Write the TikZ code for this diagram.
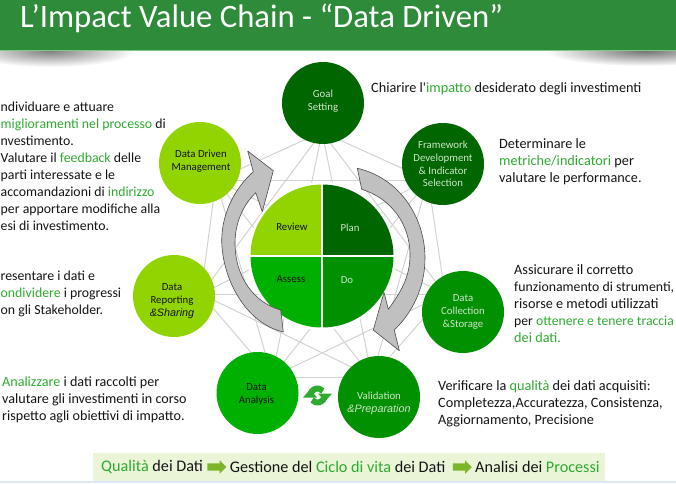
\documentclass[tikz,border=0pt]{standalone}
\usepackage{fontspec}
\setmainfont{Carlito}
\newfontfamily\arialfont{Liberation Sans}
\newfontfamily\plainfont{Carlito}
\usetikzlibrary{arrows.meta,calc,positioning,shapes.arrows}

\definecolor{headgreen}{HTML}{2E8B39}
\definecolor{keygreen}{HTML}{2EAA30}
\definecolor{meshgray}{HTML}{D2D2D2}
\definecolor{arrowgray}{HTML}{C0C0C0}
\definecolor{darkfill}{HTML}{006600}
\definecolor{midfill}{HTML}{009000}
\definecolor{brightfill}{HTML}{00B000}
\definecolor{limefill}{HTML}{92D400}
\definecolor{barfill}{HTML}{EAF5D8}
\definecolor{stripfill}{HTML}{DCE6F5}
\definecolor{barrow}{HTML}{7DB52A}
\definecolor{inktext}{HTML}{141414}
\definecolor{paletext}{HTML}{CFE6CA}

\newcommand{\kw}[1]{\textcolor{keygreen}{#1}}

\tikzset{
	phase/.style={circle, minimum size=82pt, inner sep=0pt},
	labellight/.style={align=center, inner sep=0pt, text=paletext, font=\fontsize{10.8}{12.8}\selectfont},
	labeldark/.style={labellight, text=inktext},
	body/.style={anchor=west, align=left, inner sep=0pt, text=inktext, font=\fontsize{14.25}{17}\selectfont},
	bodyleft/.style={body, font=\fontsize{13.8}{17}\selectfont},
	bartext/.style={inner sep=0pt, text=inktext, font=\fontsize{16.2}{18}\selectfont},
	barhead/.style={single arrow, fill=barrow, minimum height=19pt, single arrow head extend=3pt, inner xsep=0pt, inner ysep=3.5pt, right=4pt of #1},
	turn/.style={fill=arrowgray, draw=black!70, line width=0.6pt, line join=round},
	mesh/.style={draw=meshgray, line width=1pt},
	sync/.style={draw=keygreen, line width=6pt}
}

\begin{document}
\begin{tikzpicture}[x=1pt,y=1pt]
	\useasboundingbox (0,0) rectangle (676,483);

	\shade[inner color=black!50, outer color=white] (50,432) ellipse [x radius=85, y radius=16];
	\shade[inner color=black!55, outer color=white] (645,432) ellipse [x radius=100, y radius=15];
	\fill[headgreen] (0,432) rectangle (676,483);
	\fill[green!25!headgreen!60!white] (0,431.5) rectangle (676,432.5);
	\node[anchor=west, inner sep=0pt, text=white, font=\fontsize{32.7}{36}\selectfont] (title) at (20,465) {L’Impact Value Chain - “Data Driven”};

	\coordinate (vgoal) at (322,351);
	\coordinate (vframework) at (428,303);
	\coordinate (vcollection) at (445,189);
	\coordinate (vvalidation) at (372,106);
	\coordinate (vanalysis) at (272,106);
	\coordinate (vreporting) at (201,189);
	\coordinate (vdriven) at (216,303);
	\foreach \a [count=\i] in {goal,framework,collection,validation,analysis,reporting,driven}
		\foreach \b [count=\j] in {goal,framework,collection,validation,analysis,reporting,driven} {
			\ifnum\i<\j \draw[mesh] (v\a) -- (v\b); \fi
		}

	\node[phase, fill=darkfill, label={[labellight, yshift=2pt]center:Goal\\Setting}] (goal) at (323,380) {};
	\node[phase, fill=darkfill, label={[labellight]center:Framework\\Development\\\& Indicator\\Selection}] (framework) at (443,319) {};
	\node[phase, fill=midfill, label={[labellight]center:Data\\Collection\\\&Storage}] (collection) at (463,171) {};
	\node[phase, fill=midfill, label={[labellight, yshift=-6pt]center:Validation\\{\arialfont\itshape \&Preparation}}] (validation) at (379,86) {};
	\node[phase, fill=brightfill, label={[labeldark, xshift=-1pt, yshift=-1pt]center:Data\\Analysis}] (analysis) at (257.5,90) {};
	\node[phase, fill=limefill, label={[labeldark, xshift=-2pt, yshift=-5pt]center:Data\\Reporting\\{\arialfont\itshape \&Sharing}}] (reporting) at (174,187) {};
	\node[phase, fill=limefill, label={[labeldark, xshift=1pt, yshift=2pt]center:Data Driven\\Management}] (driven) at (200,320) {};

	\coordinate (pie) at (322,227);
	\fill[white] (pie) circle (74);
	\foreach \start/\col in {0/darkfill,90/limefill,180/brightfill,270/midfill}
		\fill[\col] (pie) -- ++(\start:71.5) arc[start angle=\start, delta angle=90, radius=71.5] -- cycle;
	\draw[white, line width=1.5pt] ($(pie)+(-72,0)$) -- ($(pie)+(72,0)$);
	\draw[white, line width=1.5pt] ($(pie)+(0,-72)$) -- ($(pie)+(0,72)$);
	\node[labeldark] (review) at ($(pie)+(-30,29)$) {Review};
	\node[labellight] (plan) at ($(pie)+(28,28)$) {Plan};
	\node[labeldark] (assess) at ($(pie)+(-31,-23)$) {Assess};
	\node[labellight] (do) at ($(pie)+(25,-24)$) {Do};

	\draw[turn] (283.3,151) .. controls (245,160) and (222,205) .. (221.7,243)
		.. controls (222,270) and (235,295) .. (253.3,311.3)
		-- (247.7,332) -- (273.3,312.3) -- (262.3,271.3) -- (255.7,290.3)
		.. controls (243,278) and (235,260) .. (235,240)
		.. controls (235,205) and (255,180) .. (280.7,173) -- cycle;
	\draw[turn] (357.3,314.7) .. controls (400,305) and (425,265) .. (425,225)
		.. controls (425,195) and (412,170) .. (394.3,153)
		-- (399.3,132.3) -- (373.3,153) -- (384,190.7) -- (388.3,173.7)
		.. controls (400,190) and (410,205) .. (410,228)
		.. controls (410,260) and (390,285) .. (361.7,293.7) -- cycle;

	\coordinate (syncpt) at (317.5,87.5);
	\draw[sync] ($(syncpt)+(165:7)$) arc[start angle=165, end angle=40, radius=7];
	\draw[sync] ($(syncpt)+(345:7)$) arc[start angle=345, end angle=220, radius=7];
	\fill[keygreen] ($(syncpt)+(14.5,2)$) -- ($(syncpt)+(0.5,2)$) -- ($(syncpt)+(7.5,-6)$) -- cycle;
	\fill[keygreen] ($(syncpt)+(-14.5,-2)$) -- ($(syncpt)+(-0.5,-2)$) -- ($(syncpt)+(-7.5,6)$) -- cycle;

	\node[body] (goaltext) at (371,394.5) {Chiarire l{\plainfont'}\kw{impatto} desiderato degli investimenti};
	\node[body] (frameworktext) at (499,321.5) {Determinare le\\\kw{metriche/indicatori} per\\valutare le performance.};
	\node[body] (collectiontext) at (514,179) {Assicurare il corretto\\{\fontsize{13.8}{17}\selectfont funzionamento di strumenti,}\\risorse e metodi utilizzati\\{\fontsize{13.7}{17}\selectfont per \kw{ottenere e tenere traccia}}\\\kw{dei dati.}};
	\node[body] (validationtext) at (438,79.5) {Verificare la \kw{qualità} dei dati acquisiti:\\Completezza,Accuratezza, Consistenza,\\Aggiornamento, Precisione};
	\node[body, font=\fontsize{14.1}{17}\selectfont] (analysistext) at (2,83.5) {\kw{Analizzare} i dati raccolti per\\valutare gli investimenti in corso\\rispetto agli obiettivi di impatto.};
	\node[bodyleft] (reportingtext) at (0.5,189.5) {resentare i dati e\\\kw{ondividere} i progressi\\on gli Stakeholder.};
	\node[bodyleft] (driventext) at (0.5,316.5) {ndividuare e attuare\\\kw{miglioramenti nel processo} di\\nvestimento.\\Valutare il \kw{feedback} delle\\parti interessate e le\\accomandazioni di \kw{indirizzo}\\per apportare modifiche alla\\esi di investimento.};

	\fill[stripfill] (0,0) rectangle (676,2);
	\fill[barfill] (93,2) rectangle (605,30);
	\node[bartext, anchor=west] (quality) at (101,16) {\kw{Qualità} dei Dati};
	\node[barhead=quality] (arrowa) {};
	\node[bartext, right=3pt of arrowa] (lifecycle) {Gestione del \kw{Ciclo di vita} dei Dati};
	\node[barhead=lifecycle, xshift=3pt] (arrowb) {};
	\node[bartext, right=3pt of arrowb] (process) {Analisi dei \kw{Processi}};
\end{tikzpicture}
\end{document}
